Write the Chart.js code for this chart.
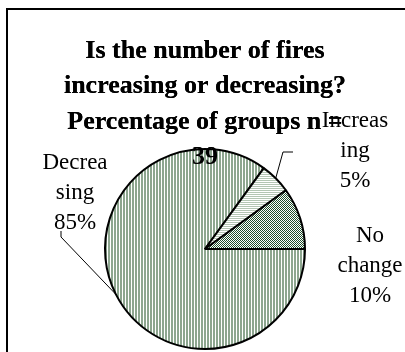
<!DOCTYPE html>
<html><head><meta charset="utf-8">
<script src="https://cdn.jsdelivr.net/npm/chart.js@4"></script>
<style>html,body{margin:0;padding:0;background:#fff}#wrap{position:relative;width:405px;height:352px}</style>
</head><body><div id="wrap"><canvas id="c" width="405" height="352"></canvas></div>
<script>
// ---- data ----
const categories = ['Decreasing', 'Increasing', 'No change'];
const percentages = [85, 5, 10];
const labelLines = [['Decrea', 'sing'], ['Increas', 'ing'], ['No', 'change']];
const titleLines = ['Is the number of fires', 'increasing or decreasing?', 'Percentage of groups n =', '39'];

// ---- patterns ----
const canvas = document.getElementById('c');
const mainCtx = canvas.getContext('2d');
function makePattern(w, h, draw) {
  const c = document.createElement('canvas');
  c.width = w; c.height = h;
  const g = c.getContext('2d');
  g.fillStyle = '#fff'; g.fillRect(0, 0, w, h);
  draw(g);
  return mainCtx.createPattern(c, 'repeat');
}
const patDecreasing = makePattern(3, 3, g => { g.fillStyle = '#8da68f'; g.fillRect(0, 0, 2, 3); });
const patIncreasing = makePattern(2, 2, g => { g.fillStyle = '#b4c6b4'; g.fillRect(0, 0, 2, 1); });
const patNoChange = makePattern(2, 2, g => { g.fillStyle = '#1f4f2b'; g.fillRect(0, 0, 1, 1); g.fillRect(1, 1, 1, 1); });

// ---- layout of labels (in units of pie radius, relative to pie centre) ----
const labelLayout = [
  {dx: -1.30, dy: -0.86, leader: [[-1.44, -0.12], [-1.44, -0.18]]},
  {dx: 1.50, dy: -1.28, leader: [[0.78, -0.97], [0.88, -0.97]]},
  {dx: 1.65, dy: -0.13, leader: null}
];

const framePlugin = {
  id: 'frame',
  beforeDraw(chart) {
    const ctx = chart.ctx;
    ctx.save();
    ctx.strokeStyle = '#000';
    ctx.lineWidth = 2;
    ctx.beginPath();
    ctx.moveTo(7, 352); ctx.lineTo(7, 9); ctx.lineTo(405, 9);
    ctx.stroke();
    ctx.restore();
  }
};

const sliceLabels = {
  id: 'sliceLabels',
  afterDatasetsDraw(chart) {
    const ctx = chart.ctx;
    const meta = chart.getDatasetMeta(0);
    // title sits over the top of the pie, as in the original
    if (chart.titleBlock) chart.titleBlock.draw(chart.chartArea);
    ctx.save();
    meta.data.forEach((arc, i) => {
      const p = arc.getProps(['x', 'y', 'startAngle', 'endAngle', 'outerRadius'], true);
      const r = p.outerRadius;
      const mid = (p.startAngle + p.endAngle) / 2;
      const L = labelLayout[i];
      if (L.leader) {
        ctx.strokeStyle = '#000';
        ctx.lineWidth = 1;
        ctx.beginPath();
        ctx.moveTo(p.x + Math.cos(mid) * r, p.y + Math.sin(mid) * r);
        L.leader.forEach(pt => ctx.lineTo(p.x + pt[0] * r, p.y + pt[1] * r));
        ctx.stroke();
      }
      const lines = labelLines[i].concat([percentages[i] + '%']);
      ctx.fillStyle = '#000';
      ctx.font = '23px "Liberation Serif"';
      ctx.textAlign = 'center';
      ctx.textBaseline = 'middle';
      const lx = p.x + L.dx * r, ly = p.y + L.dy * r;
      lines.forEach((t, k) => ctx.fillText(t, lx, ly + k * 30));
    });
    ctx.restore();
  }
};

new Chart(canvas, {
  type: 'pie',
  data: {
    labels: categories,
    datasets: [{
      data: percentages,
      backgroundColor: [patDecreasing, patIncreasing, patNoChange],
      borderColor: '#000',
      borderWidth: 2
    }]
  },
  options: {
    responsive: false,
    animation: false,
    rotation: 90,
    radius: 100,
    layout: {padding: {left: 5, right: 0, top: 0, bottom: 0}},
    plugins: {
      legend: {display: false},
      tooltip: {enabled: false},
      title: {
        display: true,
        text: titleLines,
        color: '#000',
        font: {family: 'Liberation Serif', size: 26, weight: 'bold', lineHeight: 35.5 / 26},
        padding: {top: 33.25, bottom: -29.25}
      }
    }
  },
  plugins: [framePlugin, sliceLabels]
});
</script>
</body></html>
